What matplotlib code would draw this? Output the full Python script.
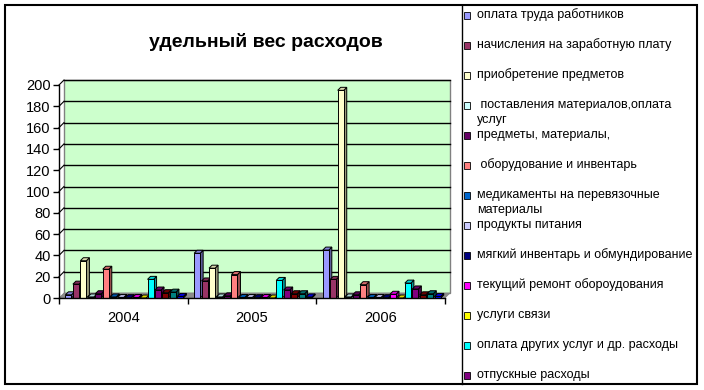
import numpy as np
import matplotlib
matplotlib.use('Agg')
from matplotlib import pyplot as plt
from matplotlib.patches import Rectangle, Polygon
from matplotlib.colors import to_rgb

plt.rcParams['font.family'] = ['Liberation Sans', 'DejaVu Sans']

years = ['2004', '2005', '2006']

# 16 series per year (legend only shows the first 13, the rest are cut off)
vals_2004 = [3, 13, 35, 1, 4, 27, 1, 0.5, 0.3, 0.5, 0, 17.5, 7.5, 5, 5.5, 1.5]
vals_2005 = [42, 16, 28, 1, 2, 22, 0.5, 0.5, 0.3, 0.5, 0, 16.5, 7.5, 4, 4, 1]
vals_2006 = [45, 17.5, 195, 1, 3, 12.5, 0.5, 0.5, 0.3, 3.5, 0, 14, 8.5, 3, 4, 1.5]

series_labels = [
    'оплата труда работников',
    'начисления на заработную плату',
    'приобретение предметов',
    ' поставления материалов,оплата\nуслуг',
    'предметы, материалы,',
    ' оборудование и инвентарь',
    'медикаменты на перевязочные\nматериалы',
    'продукты питания',
    'мягкий инвентарь и обмундирование',
    'текущий ремонт обороудования',
    'услуги связи',
    'оплата других услуг и др. расходы',
    'отпускные расходы',
]

series_colors = ['#9999FF', '#993366', '#FFFFCC', '#CCFFFF', '#660066', '#FF8080',
                 '#0066CC', '#CCCCFF', '#000080', '#FF00FF', '#FFFF00', '#00FFFF',
                 '#800080', '#800000', '#008080', '#0000FF']

W, H = 704, 390
fig = plt.figure(figsize=(W / 100, H / 100), dpi=100)

# overlay in pixel coords for frame, title, legend
ov = fig.add_axes([0, 0, 1, 1], zorder=-1)
ov.set_xlim(0, W)
ov.set_ylim(H, 0)
ov.axis('off')
ov.add_patch(Rectangle((5, 5), 692, 379, fill=False, ec='black', lw=1.5))
ov.plot([462, 462], [5, 384], color='black', lw=1)
ov.text(266, 42, 'удельный вес расходов', ha='center', va='center',
        fontsize=14, fontweight='bold')

for i, lab in enumerate(series_labels):
    y = 15 + i * 30
    ov.add_patch(Rectangle((463.5, y - 3.5), 6.5, 7, fc=series_colors[i], ec='black', lw=0.6))
    for k, line in enumerate(lab.split('\n')):
        ov.text(477, y + k * 15, line, ha='left', va='center', fontsize=9, clip_on=True)

# main axes = front plane of the 3d box
x0, x1, y0, y1 = 59, 445, 298, 85
ax = fig.add_axes([x0 / W, 1 - y0 / H, (x1 - x0) / W, (y0 - y1) / H])
ax.set_xlim(0, 3)
ax.set_ylim(0, 200)
ax.patch.set_alpha(0)

px_x = 3 / (x1 - x0)      # data units per pixel
px_y = 200 / (y0 - y1)
wx, wy = 5 * px_x, 5 * px_y   # wall depth offset
dx, dy = 3 * px_x, 3 * px_y   # bar depth offset

ax.add_patch(Rectangle((wx, wy), 3, 200, fc='#CCFFCC', ec='#808080', lw=1,
                       clip_on=False, zorder=0))
ticks = np.arange(0, 201, 20)
for t in ticks[1:]:
    ax.plot([wx, 3 + wx], [t + wy, t + wy], color='black', lw=1, clip_on=False, zorder=0.5)
    ax.plot([0, wx], [t, t + wy], color='black', lw=0.8, clip_on=False, zorder=0.5)
ax.add_patch(Polygon([(0, 0), (3, 0), (3 + wx, wy), (wx, wy)], closed=True,
                     fc='#8c8c8c', ec='#808080', lw=0.5, clip_on=False, zorder=0.6))

slot = 0.058
face = 0.047
start = 0.05
data = [vals_2004, vals_2005, vals_2006]
for c, vals in enumerate(data):
    for i, v in enumerate(vals):
        col = np.array(to_rgb(series_colors[i]))
        xl = c + start + i * slot
        xr = xl + face
        z = 2 + i * 0.01
        side = Polygon([(xr, 0), (xr + dx, dy), (xr + dx, v + dy), (xr, v)], closed=True,
                       fc=col * 0.6, ec='black', lw=0.7, zorder=z, clip_on=False)
        top = Polygon([(xl, v), (xr, v), (xr + dx, v + dy), (xl + dx, v + dy)], closed=True,
                      fc=col * 0.85, ec='black', lw=0.7, zorder=z, clip_on=False)
        ax.add_patch(side)
        ax.add_patch(top)
        ax.bar(xl, v, width=face, align='edge', color=series_colors[i], ec='black',
               lw=0.7, zorder=z + 0.001, clip_on=False)

for s in ['top', 'right']:
    ax.spines[s].set_visible(False)
ax.spines['left'].set_linewidth(1)
ax.spines['bottom'].set_linewidth(1)
ax.spines['left'].set_color('black')
ax.spines['bottom'].set_color('black')

ax.set_yticks(ticks)
ax.set_yticklabels([str(t) for t in ticks], fontsize=10.5)
ax.tick_params(axis='y', direction='out', length=4, width=1, pad=2)
ax.set_xticks([0.5, 1.5, 2.5])
ax.set_xticklabels(years, fontsize=10.5)
ax.set_xticks([0, 1, 2, 3], minor=True)
ax.tick_params(axis='x', which='major', length=0, pad=9)
ax.tick_params(axis='x', which='minor', direction='out', length=4, width=1)

fig.savefig('out.png', dpi=100)
